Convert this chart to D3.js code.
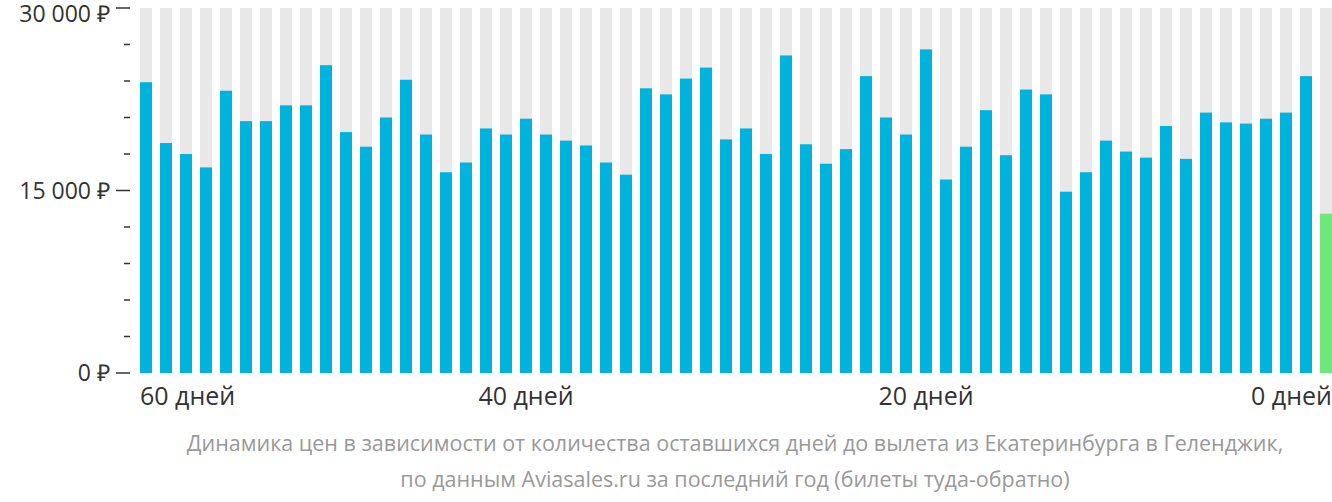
<!DOCTYPE html><html><head><meta charset="utf-8"><script src="https://cdn.jsdelivr.net/npm/d3@7"></script>
<style>body{margin:0;background:#fff}svg{font-family:"Open Sans",sans-serif}</style></head><body><svg width="1332" height="502"></svg><script>
const days=d3.range(59,-1,-1);
const prices=[23900,18900,18000,16900,23200,20700,20700,22000,22000,25300,19800,18600,21000,24100,19600,16500,17300,20100,19600,20900,19600,19100,18700,17300,16300,23400,22900,24200,25100,19200,20100,18000,26100,18800,17200,18400,24400,21000,19600,26600,15900,18600,21600,17900,23300,22900,14900,16500,19100,18200,17700,20300,17600,21400,20600,20500,20900,21400,24400,13100];
const majorTicks=[0,15000,30000];
const xLabels=[{t:"60 дней",x:140,a:"start"},{t:"40 дней",d:40},{t:"20 дней",d:20},{t:"0 дней",x:1332,a:"end"}];
const caption=["Динамика цен в зависимости от количества оставшихся дней до вылета из Екатеринбурга в Геленджик,","по данным Aviasales.ru за последний год (билеты туда-обратно)"];
const svg=d3.select("svg");
const x=d3.scaleBand().domain(days).range([140,1332]).paddingInner(0.4).paddingOuter(0);
const y=d3.scaleLinear().domain([0,30000]).range([373,8]);
svg.selectAll(".bg").data(days).join("rect").attr("x",d=>x(d)).attr("width",x.bandwidth()).attr("y",y(30000)).attr("height",y(0)-y(30000)).attr("fill","#e8e8e8");
svg.selectAll(".b").data(prices).join("rect").attr("x",(d,i)=>x(days[i])).attr("width",x.bandwidth()).attr("y",d=>y(d)).attr("height",d=>y(0)-y(d)).attr("fill",(d,i)=>days[i]===0?"#6ee87a":"#00b3dd");
const minor=d3.range(0,30001,3000);
svg.selectAll(".mt").data(minor).join("line").attr("x1",d=>majorTicks.includes(d)?116:124).attr("x2",130).attr("y1",d=>y(d)).attr("y2",d=>y(d)).attr("stroke","#333").attr("stroke-width",1.5);
svg.selectAll(".yl").data(majorTicks).join("text").attr("x",110).attr("y",d=>Math.max(y(d),14)).attr("dy","0.35em").attr("text-anchor","end").attr("font-size",23).attr("fill","#333").text(d=>(d===0?"0":d3.format(",")(d).replace(/,/g," "))+" ₽");
svg.selectAll(".xl").data(xLabels).join("text").attr("x",d=>d.x!==undefined?d.x:x(d.d)+x.bandwidth()/2).attr("y",405).attr("text-anchor",d=>d.a||"middle").attr("font-size",25).attr("fill","#333").text(d=>d.t);
svg.selectAll(".cap").data(caption).join("text").attr("x",735).attr("y",(d,i)=>451+i*36).attr("text-anchor","middle").attr("font-size",21.5).attr("fill","#999").text(d=>d);
</script></body></html>
